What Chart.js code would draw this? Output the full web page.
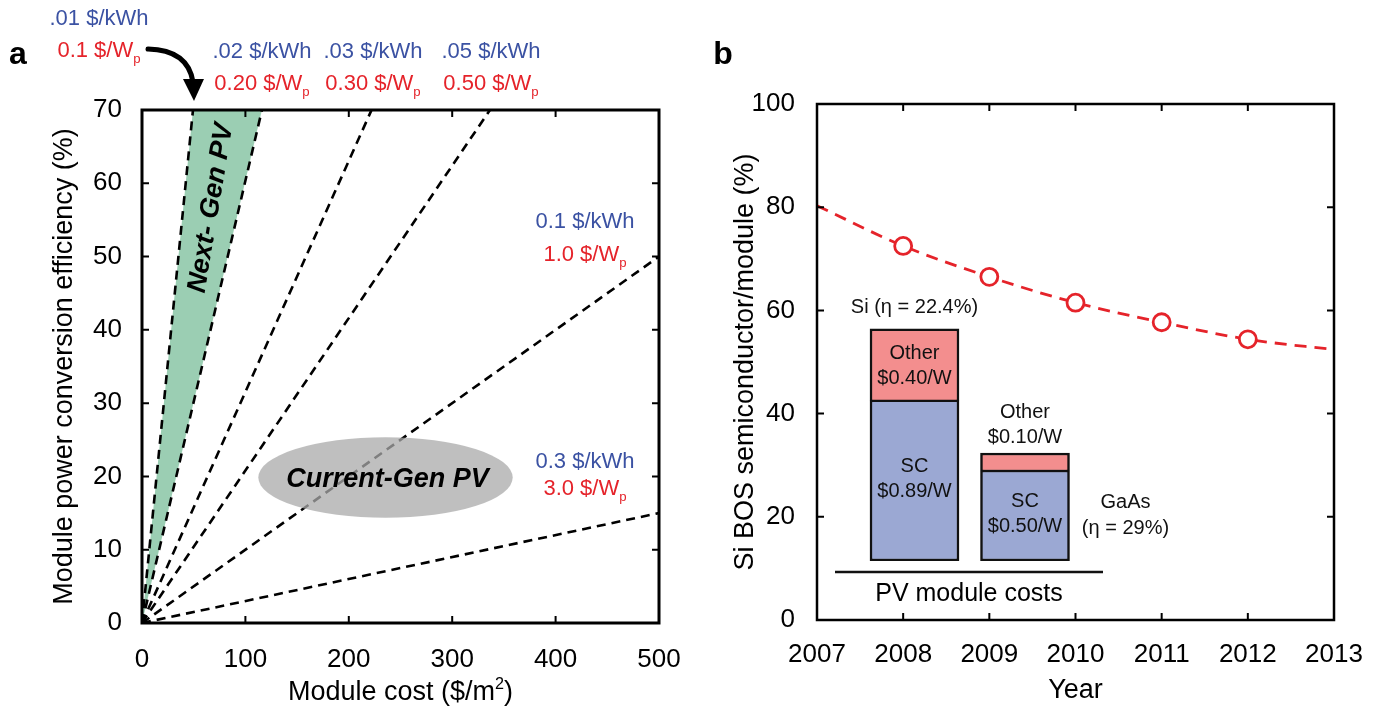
<!DOCTYPE html>
<html>
<head>
<meta charset="utf-8">
<script src="https://cdn.jsdelivr.net/npm/chart.js@4.4.1/dist/chart.umd.min.js"></script>
<style>
  html, body { margin: 0; padding: 0; background: #fff; }
  #wrap { position: relative; width: 1382px; height: 711px; overflow: hidden; }
  #wrap canvas { position: absolute; top: 0; }
</style>
</head>
<body>
<div id="wrap">
  <canvas id="effChart" width="700" height="711" style="left:0px"></canvas>
  <canvas id="bosChart" width="682" height="711" style="left:700px"></canvas>
  <canvas id="costInset" width="380" height="330" style="left:830px; top:280px"></canvas>
</div>
<script>
// ---------- panel a: module cost vs. conversion efficiency ----------
const moduleCostTicks = [0, 100, 200, 300, 400, 500];
const efficiencyTicks = [0, 10, 20, 30, 40, 50, 60, 70];
// far end of each iso-price line drawn from the origin ($/m², %)
const isoPriceCost = [49.3, 116, 222, 336.5, 500, 500];
const isoPriceEff = [70, 70, 70, 70, 50, 15];
const energyPriceLabels = ['.01 $/kWh', '.02 $/kWh', '.03 $/kWh', '.05 $/kWh', '0.1 $/kWh', '0.3 $/kWh'];
const wattPriceLabels = ['0.1 $/W', '0.20 $/W', '0.30 $/W', '0.50 $/W', '1.0 $/W', '3.0 $/W'];
// current-generation PV region: centre and half extents ($/m², %)
const currentGenCenter = [235.5, 19.85];
const currentGenHalf = [123, 5.5];
const nextGenLabelEff = 56.6;

// ---------- panel b: semiconductor share of Si module cost ----------
const yearTicks = [2007, 2008, 2009, 2010, 2011, 2012, 2013];
const shareTicks = [0, 20, 40, 60, 80, 100];
const years = [2008, 2009, 2010, 2011, 2012];
const siShare = [72.5, 66.5, 61.5, 57.7, 54.4];
const trendYears = [2007, 2008, 2009, 2010, 2011, 2012, 2013];
const trendShare = [80.3, 72.5, 66.5, 61.5, 57.7, 54.4, 52.4];

// ---------- inset: PV module cost breakdown ($/W) ----------
const modules = ['Si', 'GaAs'];
const semiconductorCost = [0.89, 0.50];
const otherCost = [0.40, 0.10];
const moduleEfficiency = ['22.4%', '29%'];

// ---------- shared styling ----------
const FAMILY = '"Liberation Sans", Arial, Helvetica, sans-serif';
const BLUE = '#3b52a3';
const RED = '#e5232a';
const GREEN = '#9bceb3';
Chart.defaults.font.family = FAMILY;
Chart.defaults.color = '#000';

function font(size, weight = 'normal', style = 'normal') {
  return `${style} ${weight} ${size}px ${FAMILY}`;
}

// text built from runs; a run marked 'sub' or 'sup' is shrunk and shifted
function drawRuns(ctx, runs, cx, cy, size, color, align = 'center') {
  ctx.save();
  ctx.fillStyle = color;
  ctx.textBaseline = 'alphabetic';
  ctx.textAlign = 'left';
  const parts = runs.map(([t, mode]) => {
    const s = mode ? size * 0.6 : size;
    ctx.font = font(s);
    return { t, mode, s, w: ctx.measureText(t).width };
  });
  const total = parts.reduce((a, p) => a + p.w, 0);
  let x = align === 'center' ? cx - total / 2 : align === 'right' ? cx - total : cx;
  const base = cy + size * 0.358;
  for (const p of parts) {
    ctx.font = font(p.s);
    const dy = p.mode === 'sub' ? size * 0.3 : p.mode === 'sup' ? -size * 0.4 : 0;
    ctx.fillText(p.t, x, base + dy);
    x += p.w;
  }
  ctx.restore();
}

function drawRotatedTitle(ctx, text, cx, cy, size) {
  ctx.save();
  ctx.translate(cx, cy);
  ctx.rotate(-Math.PI / 2);
  ctx.font = font(size);
  ctx.fillStyle = '#000';
  ctx.textAlign = 'center';
  ctx.textBaseline = 'middle';
  ctx.fillText(text, 0, 0);
  ctx.restore();
}

// box frame with inward tick marks on all four sides
function drawFrame(chart, width, tickLen) {
  const { ctx, chartArea: a, scales: { x, y } } = chart;
  ctx.save();
  ctx.strokeStyle = '#000';
  ctx.lineWidth = 2;
  ctx.beginPath();
  x.ticks.forEach(t => {
    const px = x.getPixelForValue(t.value);
    if (px <= a.left + 1 || px >= a.right - 1) return;
    ctx.moveTo(px, a.bottom); ctx.lineTo(px, a.bottom - tickLen);
    ctx.moveTo(px, a.top); ctx.lineTo(px, a.top + tickLen);
  });
  y.ticks.forEach(t => {
    const py = y.getPixelForValue(t.value);
    if (py <= a.top + 1 || py >= a.bottom - 1) return;
    ctx.moveTo(a.left, py); ctx.lineTo(a.left + tickLen, py);
    ctx.moveTo(a.right, py); ctx.lineTo(a.right - tickLen, py);
  });
  ctx.stroke();
  ctx.lineWidth = width;
  ctx.strokeRect(a.left, a.top, a.right - a.left, a.bottom - a.top);
  ctx.restore();
}

function axisOptions(ticksArr, min, max, size, padding, fitKey, fitValue) {
  return {
    type: 'linear', min, max,
    afterBuildTicks: s => { s.ticks = ticksArr.map(v => ({ value: v })); },
    afterFit: s => { s[fitKey] = fitValue; },
    grid: { display: false },
    border: { display: false },
    ticks: { autoSkip: false, maxRotation: 0, padding, color: '#000',
             font: { size: 26, family: FAMILY }, callback: v => String(v) }
  };
}

// ---------- panel a chart ----------
const isoLines = isoPriceCost.map((c, i) => ({
  data: [{ x: 0, y: 0 }, { x: c, y: isoPriceEff[i] }],
  borderColor: '#000', borderWidth: 2.6, borderDash: [9, 6],
  pointRadius: 0, fill: false
}));
const nextGenBand = {
  data: [{ x: 0, y: 0 }, { x: isoPriceCost[0], y: isoPriceEff[0] },
         { x: isoPriceCost[1], y: isoPriceEff[1] }, { x: 0, y: 0 }],
  borderWidth: 0, pointRadius: 0, backgroundColor: GREEN, fill: 'shape'
};

const labelLayout = [[99, 17, 49], [262, 50, 82], [373, 50, 82], [491, 50, 82], [585, 220, 253], [585, 460, 487]];

const panelA = {
  id: 'panelA',
  afterDatasetsDraw(chart) {
    const { ctx, scales: { x, y } } = chart;
    ctx.save();
    // current-generation region
    const cx = x.getPixelForValue(currentGenCenter[0]);
    const cy = y.getPixelForValue(currentGenCenter[1]);
    const rx = x.getPixelForValue(currentGenCenter[0] + currentGenHalf[0]) - cx;
    const ry = cy - y.getPixelForValue(currentGenCenter[1] + currentGenHalf[1]);
    ctx.fillStyle = 'rgba(170,170,170,0.75)';
    ctx.beginPath();
    ctx.ellipse(cx, cy, rx, ry, 0, 0, Math.PI * 2);
    ctx.fill();
    ctx.fillStyle = '#000';
    ctx.font = font(27, 'bold', 'italic');
    ctx.textAlign = 'center';
    ctx.textBaseline = 'middle';
    ctx.fillText('Current-Gen PV', cx + 2, cy + 2);

    // next-generation band label along the band's midline
    const ox = x.getPixelForValue(0), oy = y.getPixelForValue(0);
    const tx = (x.getPixelForValue(isoPriceCost[0]) + x.getPixelForValue(isoPriceCost[1])) / 2;
    const ty = y.getPixelForValue(70);
    const f = nextGenLabelEff / 70;
    ctx.translate(ox + (tx - ox) * f, oy + (ty - oy) * f);
    ctx.rotate(Math.atan2(ty - oy, tx - ox));
    ctx.fillText('Next- Gen PV', 0, 0);
    ctx.restore();

    drawFrame(chart, 3, 7);
  },
  afterDraw(chart) {
    const { ctx, chartArea: a, scales: { x } } = chart;
    // price labels for each iso-price line
    labelLayout.forEach(([lx, y1, y2], i) => {
      drawRuns(ctx, [[energyPriceLabels[i]]], lx, y1, 22, BLUE);
      drawRuns(ctx, [[wattPriceLabels[i]], ['p', 'sub']], lx, y2, 22, RED);
    });
    // arrow to the cheapest line
    const tipX = x.getPixelForValue(isoPriceCost[0]) + 1;
    ctx.save();
    ctx.strokeStyle = '#000';
    ctx.fillStyle = '#000';
    ctx.lineWidth = 5;
    ctx.lineCap = 'round';
    ctx.beginPath();
    ctx.moveTo(148, 49);
    ctx.quadraticCurveTo(tipX - 6, 50, tipX - 1, 82);
    ctx.stroke();
    ctx.beginPath();
    ctx.moveTo(tipX - 11, 79);
    ctx.lineTo(tipX + 10, 79);
    ctx.lineTo(tipX, 101);
    ctx.closePath();
    ctx.fill();
    // panel letter
    ctx.font = font(32, 'bold');
    ctx.textAlign = 'center';
    ctx.textBaseline = 'middle';
    ctx.fillText('a', 18, 55);
    ctx.restore();
    // axis titles
    drawRotatedTitle(ctx, 'Module power conversion efficiency (%)', 65, (a.top + a.bottom) / 2, 27);
    drawRuns(ctx, [['Module cost ($/m'], ['2', 'sup'], [')']], (a.left + a.right) / 2, 690, 27, '#000');
  }
};

new Chart(document.getElementById('effChart'), {
  type: 'line',
  data: { datasets: [...isoLines, nextGenBand] },
  options: {
    responsive: false, animation: false, devicePixelRatio: 1,
    layout: { padding: { left: 0, right: 41, top: 110, bottom: 0 } },
    plugins: { legend: { display: false }, tooltip: { enabled: false } },
    scales: {
      x: axisOptions(moduleCostTicks, 0, 500, 26, 13, 'height', 88),
      y: axisOptions(efficiencyTicks, 0, 70, 26, 12, 'width', 142)
    }
  },
  plugins: [panelA]
});

// ---------- panel b chart ----------
const panelB = {
  id: 'panelB',
  afterDatasetsDraw(chart) { drawFrame(chart, 2.5, 7); },
  afterDraw(chart) {
    const { ctx, chartArea: a } = chart;
    drawRotatedTitle(ctx, 'Si BOS semiconductor/module (%)', 46, (a.top + a.bottom) / 2, 27);
    drawRuns(ctx, [['Year']], (a.left + a.right) / 2, 688, 27, '#000');
    ctx.save();
    ctx.font = font(32, 'bold');
    ctx.fillStyle = '#000';
    ctx.textAlign = 'center';
    ctx.textBaseline = 'middle';
    ctx.fillText('b', 23, 55);
    ctx.restore();
  }
};

new Chart(document.getElementById('bosChart'), {
  type: 'line',
  data: {
    datasets: [
      {
        data: years.map((yr, i) => ({ x: yr, y: siShare[i] })),
        showLine: false, pointRadius: 8.5, pointBorderWidth: 2.8,
        pointBackgroundColor: '#fff', pointBorderColor: RED
      },
      {
        data: trendYears.map((yr, i) => ({ x: yr, y: trendShare[i] })),
        borderColor: RED, borderWidth: 2.8, borderDash: [12, 8],
        cubicInterpolationMode: 'monotone', pointRadius: 0, fill: false
      }
    ]
  },
  options: {
    responsive: false, animation: false, devicePixelRatio: 1,
    layout: { padding: { left: 0, right: 48, top: 104, bottom: 0 } },
    plugins: { legend: { display: false }, tooltip: { enabled: false } },
    scales: {
      x: axisOptions(yearTicks, 2007, 2013, 26, 11, 'height', 91),
      y: axisOptions(shareTicks, 0, 100, 26, 14, 'width', 117)
    }
  },
  plugins: [panelB]
});

// ---------- inset: stacked module cost bars ----------
const insetLabels = {
  id: 'insetLabels',
  afterDatasetsDraw(chart) {
    const { ctx } = chart;
    const sc = chart.getDatasetMeta(0).data;
    const other = chart.getDatasetMeta(1).data;
    const money = v => `$${v.toFixed(2)}/W`;
    const txt = (t, x, y) => drawRuns(ctx, [[t]], x, y, 20, '#111');
    // semiconductor part labels inside the lower segments
    sc.forEach((b, i) => {
      const mid = (b.y + b.base) / 2 - 4;
      txt('SC', b.x, mid - 12.5);
      txt(money(semiconductorCost[i]), b.x, mid + 12.5);
    });
    // Si: other-cost label inside its segment, module name above
    const o0 = other[0];
    const m0 = (o0.y + o0.base) / 2;
    txt('Other', o0.x, m0 - 12.5);
    txt(money(otherCost[0]), o0.x, m0 + 12.5);
    txt(`${modules[0]} (η = ${moduleEfficiency[0]})`, o0.x, o0.y - 23);
    // GaAs: thin other-cost segment labelled above, module name at the side
    const o1 = other[1];
    txt('Other', o1.x, o1.y - 42);
    txt(money(otherCost[1]), o1.x, o1.y - 17);
    const sideX = o1.x + o1.width / 2 + 56;
    const base = sc[1].base;
    txt(modules[1], sideX, base - 60);
    txt(`(η = ${moduleEfficiency[1]})`, sideX, base - 34);
    // group baseline and caption
    const x0 = sc[0].x - 79.5, x1 = sc[1].x + 78;
    ctx.save();
    ctx.strokeStyle = '#111';
    ctx.lineWidth = 2.5;
    ctx.beginPath();
    ctx.moveTo(x0, base + 11);
    ctx.lineTo(x1, base + 11);
    ctx.stroke();
    ctx.restore();
    drawRuns(ctx, [['PV module costs']], (x0 + x1) / 2, base + 31, 25, '#000');
  }
};

new Chart(document.getElementById('costInset'), {
  type: 'bar',
  data: {
    labels: modules,
    datasets: [
      { label: 'SC', data: semiconductorCost, backgroundColor: '#9ba8d3', borderColor: '#111',
        borderWidth: { left: 2.5, right: 2.5, bottom: 2.5, top: 1.5 }, borderSkipped: false, barThickness: 89 },
      { label: 'Other', data: otherCost, backgroundColor: '#f38e8e', borderColor: '#111',
        borderWidth: { left: 2.5, right: 2.5, top: 2.5, bottom: 1.5 }, borderSkipped: false, barThickness: 89 }
    ]
  },
  options: {
    responsive: false, animation: false, devicePixelRatio: 1,
    layout: { padding: { left: 29.25, right: 129.75, top: 11, bottom: 49 } },
    plugins: { legend: { display: false }, tooltip: { enabled: false } },
    scales: {
      x: { stacked: true, display: false },
      y: { stacked: true, display: false, min: 0, max: 1.5 }
    }
  },
  plugins: [insetLabels]
});
</script>
</body>
</html>
